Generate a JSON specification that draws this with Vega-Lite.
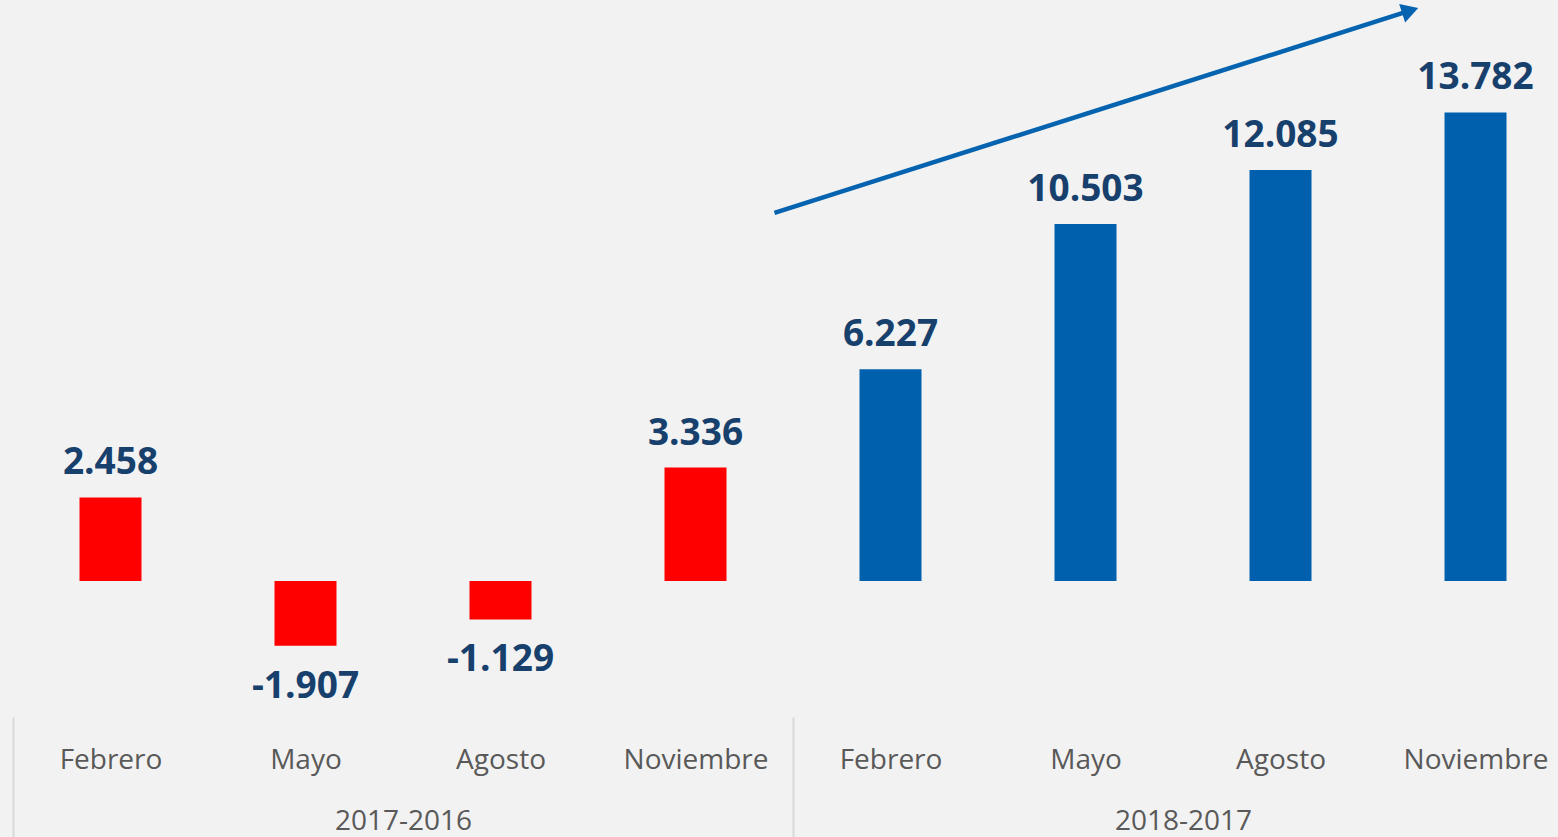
{
  "$schema": "https://vega.github.io/schema/vega-lite/v6.json",
  "width": 1545,
  "height": 717,
  "autosize": {"type": "none"},
  "padding": {"left": 13, "top": 0, "right": 0, "bottom": 120},
  "background": "#f2f2f2",
  "config": {
    "view": {"stroke": null},
    "locale": {"number": {"decimal": ",", "thousands": ".", "grouping": [3], "currency": ["", ""], "minus": "-"}}
  },
  "datasets": {
    "bars": [
      {"i": 0, "mes": "Febrero", "periodo": "2017-2016", "v": 2458},
      {"i": 1, "mes": "Mayo", "periodo": "2017-2016", "v": -1907},
      {"i": 2, "mes": "Agosto", "periodo": "2017-2016", "v": -1129},
      {"i": 3, "mes": "Noviembre", "periodo": "2017-2016", "v": 3336},
      {"i": 4, "mes": "Febrero", "periodo": "2018-2017", "v": 6227},
      {"i": 5, "mes": "Mayo", "periodo": "2018-2017", "v": 10503},
      {"i": 6, "mes": "Agosto", "periodo": "2018-2017", "v": 12085},
      {"i": 7, "mes": "Noviembre", "periodo": "2018-2017", "v": 13782}
    ],
    "arrow": [
      {"i": 3.405, "v": 10824},
      {"i": 6.636, "v": 16721}
    ],
    "head": [
      {"i": 6.665, "v": 16775}
    ],
    "groups": [
      {"g": -0.5}, {"g": 1.5}, {"g": 3.5}, {"g": 5.5}, {"g": 7.5}
    ]
  },
  "resolve": {"axis": {"x": "independent"}},
  "layer": [
    {
      "data": {"name": "bars"},
      "mark": {"type": "bar", "width": 62},
      "encoding": {
        "x": {
          "field": "i", "type": "quantitative",
          "scale": {"domain": [-0.5, 7.423], "nice": false, "zero": false, "padding": 0},
          "axis": {
            "orient": "bottom",
            "title": null, "grid": false, "domain": false, "ticks": false,
            "values": [0, 1, 2, 3, 4, 5, 6, 7],
            "labelExpr": "['Febrero','Mayo','Agosto','Noviembre'][datum.value % 4]",
            "labelFont": "Open Sans", "labelFontSize": 28, "labelColor": "#595959",
            "labelBaseline": "alphabetic", "labelPadding": 51,
            "labelOverlap": false, "labelFlush": false, "labelBound": false
          }
        },
        "y": {
          "field": "v", "type": "quantitative",
          "scale": {"domain": [-4000, 17088], "nice": false, "zero": false},
          "axis": null
        },
        "color": {
          "field": "periodo", "type": "nominal",
          "scale": {"domain": ["2017-2016", "2018-2017"], "range": ["#ff0000", "#0060ae"]},
          "legend": null
        }
      }
    },
    {
      "mark": {"type": "rule", "color": "#d9d9d9", "strokeWidth": 2},
      "encoding": {"y": {"datum": 0}}
    },
    {
      "data": {"name": "bars"},
      "transform": [{"filter": "datum.v > 0"}],
      "mark": {"type": "text", "font": "Open Sans", "fontWeight": "bold", "fontSize": 37, "color": "#17406d", "baseline": "alphabetic", "dy": -23},
      "encoding": {
        "x": {"field": "i", "type": "quantitative", "axis": null},
        "y": {"field": "v", "type": "quantitative"},
        "text": {"field": "v", "type": "quantitative", "format": ",.0f"}
      }
    },
    {
      "data": {"name": "bars"},
      "transform": [{"filter": "datum.v < 0"}],
      "mark": {"type": "text", "font": "Open Sans", "fontWeight": "bold", "fontSize": 37, "color": "#17406d", "baseline": "alphabetic", "dy": 52},
      "encoding": {
        "x": {"field": "i", "type": "quantitative", "axis": null},
        "y": {"field": "v", "type": "quantitative"},
        "text": {"field": "v", "type": "quantitative", "format": ",.0f"}
      }
    },
    {
      "data": {"name": "arrow"},
      "mark": {"type": "line", "color": "#0563b0", "strokeWidth": 4.5},
      "encoding": {
        "x": {"field": "i", "type": "quantitative", "axis": null},
        "y": {"field": "v", "type": "quantitative"}
      }
    },
    {
      "data": {"name": "head"},
      "mark": {"type": "point", "shape": "triangle-right", "filled": true, "color": "#0563b0", "opacity": 1, "size": 380, "angle": 342.3},
      "encoding": {
        "x": {"field": "i", "type": "quantitative", "axis": null},
        "y": {"field": "v", "type": "quantitative"}
      }
    },
    {
      "data": {"name": "groups"},
      "mark": {"type": "point", "opacity": 0},
      "encoding": {
        "x": {
          "field": "g", "type": "quantitative",
          "axis": {
            "orient": "bottom",
            "title": null, "grid": false, "domain": false,
            "values": [-0.5, 1.5, 3.5, 5.5, 7.5],
            "tickSize": 120, "tickWidth": 2,
            "tickColor": {"condition": {"test": "datum.value == 1.5 || datum.value == 5.5", "value": "transparent"}, "value": "#d9d9d9"},
            "labelExpr": "datum.value == 1.5 ? '2017-2016' : datum.value == 5.5 ? '2018-2017' : ''",
            "labelFont": "Open Sans", "labelFontSize": 28, "labelColor": "#595959",
            "labelBaseline": "alphabetic", "labelPadding": -8,
            "labelOverlap": false, "labelFlush": false, "labelBound": false
          }
        },
        "y": {"datum": 0}
      }
    }
  ]
}
